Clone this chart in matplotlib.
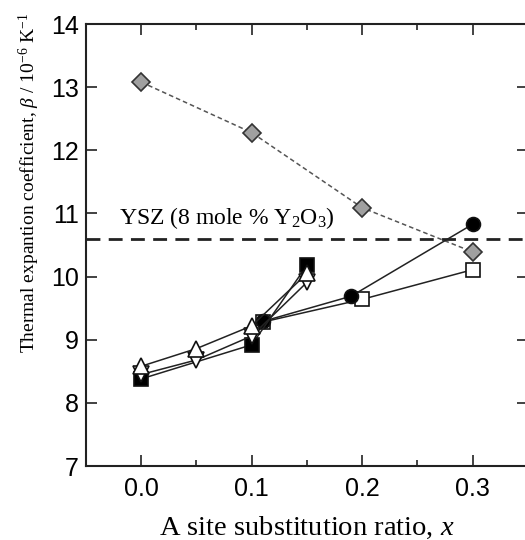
import numpy as np
import matplotlib.pyplot as plt
from matplotlib.ticker import MultipleLocator

# datos
x_dia = [0.0, 0.1, 0.2, 0.3]
y_dia = [13.08, 12.28, 11.09, 10.39]

x_sqf = [0.0, 0.1, 0.15]
y_sqf = [8.38, 8.92, 10.18]

x_tru = [0.0, 0.05, 0.1, 0.15]
y_tru = [8.58, 8.86, 9.22, 10.05]

x_trd = [0.0, 0.05, 0.1, 0.15]
y_trd = [8.45, 8.68, 9.06, 9.91]

x_cir = [0.11, 0.19, 0.3]
y_cir = [9.29, 9.69, 10.83]

x_sqo = [0.11, 0.2, 0.3]
y_sqo = [9.28, 9.64, 10.11]

ysz = 10.6

serif = ['Liberation Serif', 'DejaVu Serif']
plt.rcParams['font.family'] = ['Liberation Sans', 'DejaVu Sans']
plt.rcParams['mathtext.fontset'] = 'custom'
plt.rcParams['mathtext.rm'] = 'Liberation Serif'
plt.rcParams['mathtext.it'] = 'Liberation Serif:italic'

fig = plt.figure(figsize=(5.25, 5.4), dpi=100)
ax = fig.add_axes([0.1638, 0.137, 0.8419, 0.8185])

ax.axhline(ysz, color='#222222', lw=2, ls=(0, (5, 3)), zorder=1)
ax.plot(x_dia, y_dia, ls=(0, (3, 2)), color='#555555', lw=1.1,
        marker='D', ms=9.5, mfc='#a0a0a0', mec='#333333', mew=1.2, zorder=2)

kw = dict(color='#222222', lw=1.1, mew=1.2, mec='#111111')
ax.plot(x_sqo, y_sqo, marker='s', mfc='white', ms=10, **kw)
ax.plot(x_cir, y_cir, marker='o', mfc='black', ms=10, **kw)
ax.plot(x_sqf, y_sqf, marker='s', mfc='black', ms=10, **kw)
ax.plot(x_trd, y_trd, marker='v', mfc='white', ms=11, **kw)
ax.plot(x_tru, y_tru, marker='^', mfc='white', ms=11, **kw)

ax.text(-0.02, 10.93, 'YSZ (8 mole % Y$_2$O$_3$)', family=serif,
        fontsize=17, va='center', ha='left')

ax.set_xlim(-0.05, 0.35)
ax.set_ylim(7, 14)
ax.xaxis.set_major_locator(MultipleLocator(0.1))
ax.xaxis.set_minor_locator(MultipleLocator(0.05))
ax.yaxis.set_major_locator(MultipleLocator(1))
ax.set_xticks([0.0, 0.1, 0.2, 0.3])
ax.set_xticklabels(['0.0', '0.1', '0.2', '0.3'])
ax.tick_params(which='both', direction='in', top=True, right=True,
               labelsize=18, width=1.2, color='#222222')
ax.tick_params(which='major', length=8)
ax.tick_params(axis='x', which='major', pad=8)
ax.tick_params(axis='y', which='major', pad=5)
ax.tick_params(which='minor', length=4)
for s in ax.spines.values():
    s.set_linewidth(1.5)
    s.set_color('#222222')

ax.set_xlabel('A site substitution ratio, $x$', family=serif, fontsize=20.5)
ax.xaxis.set_label_coords(0.5, -0.111)
ax.set_ylabel(r'Thermal expantion coefficient, $\beta$ / 10$^{-6}$ K$^{-1}$',
              family=serif, fontsize=14)
ax.yaxis.set_label_coords(-0.099, 0.64)

plt.savefig('out.png', dpi=100)
